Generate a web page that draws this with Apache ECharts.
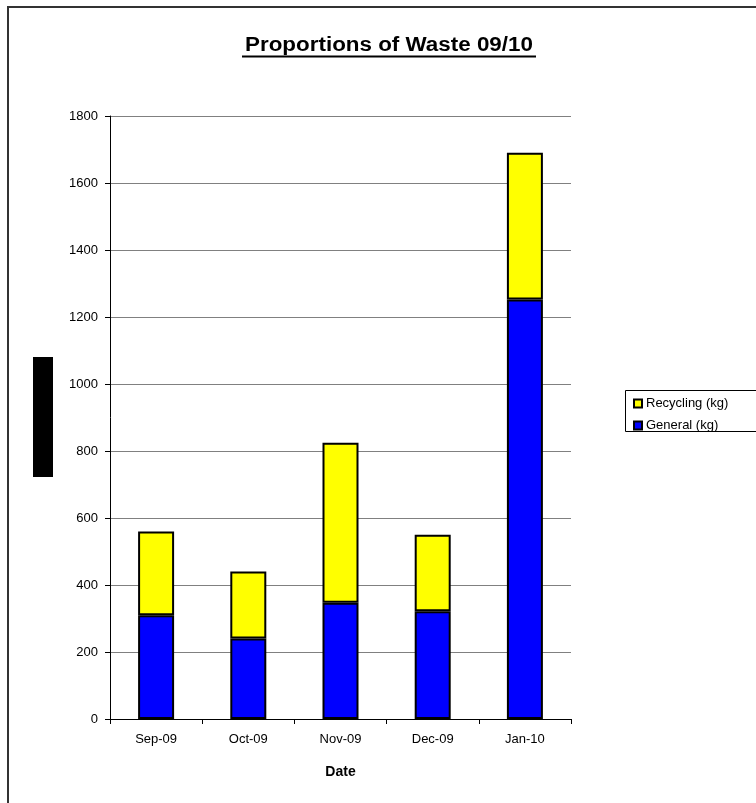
<!DOCTYPE html>
<html>
<head>
<meta charset="utf-8">
<script src="https://cdn.jsdelivr.net/npm/echarts@6/dist/echarts.min.js"></script>
<style>
  html, body { margin: 0; padding: 0; background: #fff; }
  #chart { width: 756px; height: 803px; }
</style>
</head>
<body>
<div id="chart"></div>
<script>
// Monthly waste collected, in kg
const months = ['Sep-09', 'Oct-09', 'Nov-09', 'Dec-09', 'Jan-10'];
const generalKg = [310, 240, 347, 322, 1252];
const recyclingKg = [250, 200, 478, 228, 438];
const yTicks = [0, 200, 400, 600, 800, 1000, 1200, 1400, 1600, 1800];

const FONT = '"Liberation Sans", Arial, sans-serif';
const chart = echarts.init(document.getElementById('chart'), null, { renderer: 'canvas' });

const barBorder = { borderColor: '#000', borderWidth: 2 };

chart.setOption({
  backgroundColor: '#fff',
  animation: false,
  grid: { left: 110, right: 185, top: 116, bottom: 84, containLabel: false },
  graphic: [
    // outer frame
    { type: 'rect', shape: { x: 8, y: 7, width: 800, height: 850 },
      style: { fill: 'none', stroke: '#333', lineWidth: 2 }, z: 0 },
    // title + underline
    { type: 'text', x: 389, y: 45, scaleX: 1.12, originX: 0,
      style: { text: 'Proportions of Waste 09/10', font: 'bold 20px ' + FONT,
               fill: '#000', align: 'center', verticalAlign: 'middle' }, z: 10 },
    { type: 'line', shape: { x1: 242, y1: 56.5, x2: 536, y2: 56.5 },
      style: { stroke: '#000', lineWidth: 2 }, z: 10 },
    // vertical axis title block
    { type: 'rect', shape: { x: 33, y: 357, width: 20, height: 120 },
      style: { fill: '#000' }, z: 10 },
    // legend frame
    { type: 'rect', shape: { x: 625.5, y: 390.5, width: 200, height: 41 },
      style: { fill: '#fff', stroke: '#000', lineWidth: 1 }, z: 1 }
  ],
  legend: {
    data: ['Recycling (kg)', 'General (kg)'],
    orient: 'vertical',
    left: 628, top: 392,
    itemWidth: 8, itemHeight: 8, itemGap: 9,
    icon: 'rect',
    textStyle: { fontFamily: FONT, fontSize: 13, color: '#000', padding: [0, 0, 0, -1] },
    z: 5
  },
  xAxis: {
    type: 'category',
    data: months,
    boundaryGap: true,
    axisLine: { lineStyle: { color: '#000', width: 1 } },
    axisTick: { show: true, alignWithLabel: false, length: 5, lineStyle: { color: '#000' } },
    axisLabel: { fontFamily: FONT, fontSize: 13, color: '#000', margin: 14 },
    name: 'Date',
    nameLocation: 'middle',
    nameGap: 46,
    nameTextStyle: { fontFamily: FONT, fontSize: 14, fontWeight: 'bold', color: '#000' }
  },
  yAxis: {
    type: 'value',
    min: yTicks[0],
    max: yTicks[yTicks.length - 1],
    interval: yTicks[1] - yTicks[0],
    axisLine: { show: true, lineStyle: { color: '#000', width: 1 } },
    axisTick: { show: true, length: 5, lineStyle: { color: '#000' } },
    axisLabel: { fontFamily: FONT, fontSize: 13, color: '#000', margin: 12,
                 formatter: (v) => String(v) },
    splitLine: { show: true, lineStyle: { color: '#808080', width: 1 } }
  },
  series: [
    {
      name: 'General (kg)', type: 'bar', stack: 'waste', data: generalKg,
      barWidth: 36, itemStyle: Object.assign({ color: '#0000ff' }, barBorder)
    },
    {
      name: 'Recycling (kg)', type: 'bar', stack: 'waste', data: recyclingKg,
      barWidth: 36, itemStyle: Object.assign({ color: '#ffff00' }, barBorder)
    }
  ]
});
</script>
</body>
</html>
